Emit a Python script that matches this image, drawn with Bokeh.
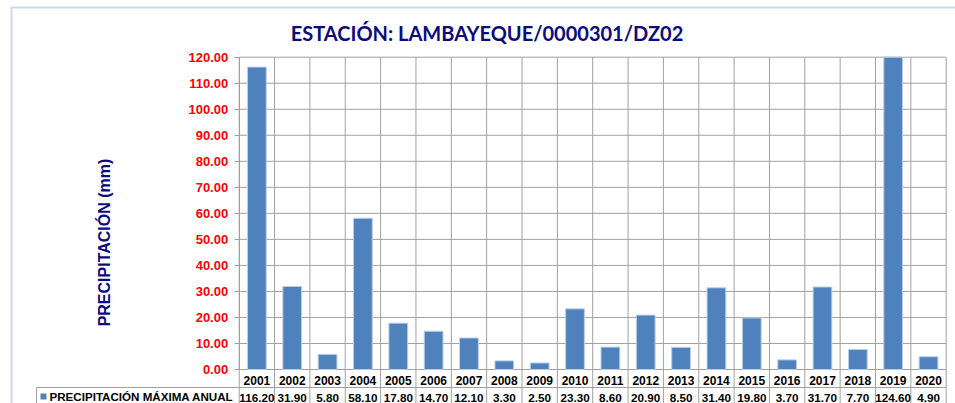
from bokeh.plotting import figure
from bokeh.models import (Range1d, FixedTicker, PrintfTickFormatter, LinearAxis,
                          Label, BoxAnnotation)
from bokeh.core.properties import value
from bokeh.embed import file_html
from bokeh.resources import INLINE
import math

# ---------------- data ----------------
years = [2001, 2002, 2003, 2004, 2005, 2006, 2007, 2008, 2009, 2010,
         2011, 2012, 2013, 2014, 2015, 2016, 2017, 2018, 2019, 2020]
precip = [116.20, 31.90, 5.80, 58.10, 17.80, 14.70, 12.10, 3.30, 2.50, 23.30,
          8.60, 20.90, 8.50, 31.40, 19.80, 3.70, 31.70, 7.70, 124.60, 4.90]
y_ticks = [0, 10, 20, 30, 40, 50, 60, 70, 80, 90, 100, 110, 120]
title_text = "ESTACIÓN: LAMBAYEQUE/0000301/DZ02"
y_label = "PRECIPITACIÓN (mm)"
series_name = "PRECIPITACIÓN MÁXIMA ANUAL"

# ---------------- styles / layout ----------------
W, H = 955, 403
BAR = "#4F81BD"
GRID = "#A0A0A0"
NAVY = "#0B0B7E"
PX_X = 35.35          # px per year column
PX_Y = 2.6025         # px per mm
PLOT_LEFT_PX, PLOT_TOP_PX, ZERO_PX = 238.7, 56.7, 369.0
Y_MAX = y_ticks[-1]

x_lo = years[0] - 0.5
x_hi = years[-1] + 0.5
x_start = x_lo - PLOT_LEFT_PX / PX_X
x_end = x_start + W / PX_X
y_end = Y_MAX + PLOT_TOP_PX / PX_Y
y_start = -(H - ZERO_PX) / PX_Y
row1 = -18 / PX_Y                       # bottom of the years row
legend_left = x_start + 36 / PX_X       # left edge of the legend cell

p = figure(width=W, height=H,
           x_range=Range1d(x_start, x_end), y_range=Range1d(y_start, y_end),
           output_backend="svg", toolbar_location=None, title=None,
           x_axis_location=None, y_axis_location=None,
           min_border_left=0, min_border_right=0,
           min_border_top=0, min_border_bottom=0)
p.background_fill_color = "white"
p.border_fill_color = "white"
p.outline_line_color = None
p.xgrid.visible = False
p.ygrid.visible = False

# chart / table lines
bounds = [y - 0.5 for y in years] + [x_hi]
p.segment(x0=x_lo, x1=x_hi, y0=y_ticks, y1=y_ticks, line_color=GRID, line_width=1)
p.segment(x0=bounds, x1=bounds, y0=Y_MAX, y1=y_start, line_color=GRID, line_width=1)
p.segment(x0=legend_left, x1=x_hi, y0=row1, y1=row1, line_color=GRID, line_width=1)
p.segment(x0=legend_left, x1=legend_left, y0=row1, y1=y_start, line_color=GRID, line_width=1)

# y axis fixed on the left edge of the plot area
ax = LinearAxis(fixed_location=x_lo, bounds=(0, Y_MAX))
ax.ticker = FixedTicker(ticks=y_ticks)
ax.formatter = PrintfTickFormatter(format="%.2f")
ax.major_label_text_color = "#FF0000"
ax.major_label_text_font = "Liberation Sans"
ax.major_label_text_font_style = "bold"
ax.major_label_text_font_size = "13px"
ax.major_tick_out = 5
ax.major_tick_in = 0
ax.minor_tick_out = 0
ax.minor_tick_in = 0
ax.major_tick_line_color = GRID
ax.axis_line_color = GRID
ax.major_label_standoff = 6
p.add_layout(ax, "left")

# bars (clipped at the axis maximum, as in the original)
p.vbar(x=years, top=[min(v, Y_MAX) for v in precip], bottom=0, width=0.53,
       fill_color=BAR, line_color="#B9CDE5", line_width=1)

# data table texts
p.text(x=years, y=-11 / PX_Y, text=[str(y) for y in years],
       text_align="center", text_baseline="middle",
       text_font=value("Liberation Sans"), text_font_style="bold",
       text_font_size="12px", text_color="black")
p.text(x=years, y=-28 / PX_Y, text=[f"{v:.2f}" for v in precip],
       text_align="center", text_baseline="middle",
       text_font=value("Liberation Sans"), text_font_style="bold",
       text_font_size="11.7px", text_color="black")

# legend key + name in the table
p.add_layout(BoxAnnotation(left=40, right=46, bottom=4, top=10,
                           left_units="screen", right_units="screen",
                           bottom_units="screen", top_units="screen",
                           fill_color=BAR, fill_alpha=1, line_alpha=0))
p.add_layout(Label(x=49, y=7, x_units="screen", y_units="screen",
                   text=series_name, text_align="left", text_baseline="middle",
                   text_font="Liberation Sans", text_font_style="bold",
                   text_font_size="11.6px", text_color="black"))

# outer chart border (left and top)
p.add_layout(BoxAnnotation(left=11, right=1000, bottom=-50, top=H - 7,
                           left_units="screen", right_units="screen",
                           bottom_units="screen", top_units="screen",
                           fill_alpha=0, line_color=BAR, line_width=2))

# title
p.add_layout(Label(x=486.5, y=H - 32.5, x_units="screen", y_units="screen",
                   text=title_text, text_align="center", text_baseline="middle",
                   text_font="Lato", text_font_style="bold",
                   text_font_size="20px", text_color=NAVY))

# y axis title
p.add_layout(Label(x=104, y=H - 242, x_units="screen", y_units="screen",
                   text=y_label, angle=math.pi / 2,
                   text_align="center", text_baseline="middle",
                   text_font="Liberation Sans", text_font_style="bold",
                   text_font_size="16px", text_color=NAVY))

open("out.html", "w").write(file_html(p, INLINE))
